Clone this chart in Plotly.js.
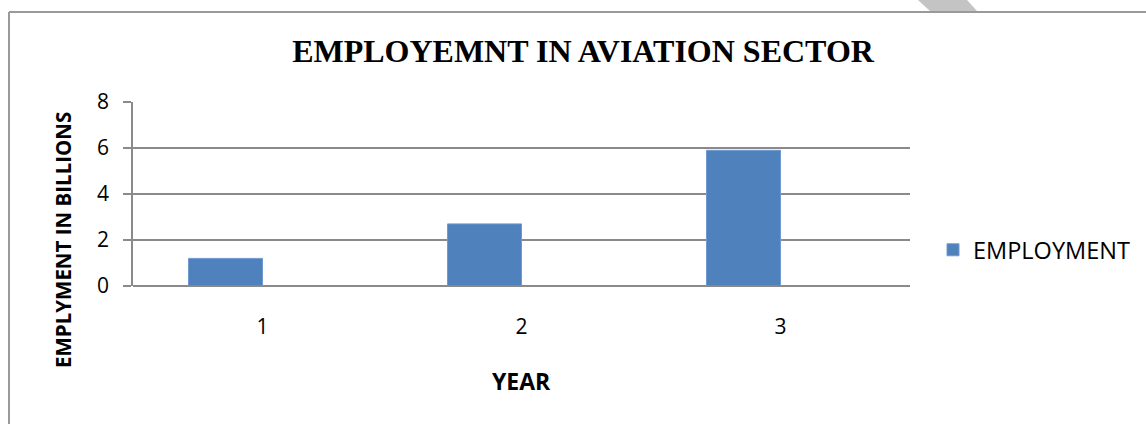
<!DOCTYPE html>
<html>
<head>
<meta charset="utf-8">
<script src="https://cdn.plot.ly/plotly-3.0.1.min.js"></script>
<style>
html,body{margin:0;padding:0;background:#fff;}
#chart{width:1146px;height:424px;}
</style>
</head>
<body>
<div id="chart"></div>
<script>
// Data
const years = ["1", "2", "3"];
const employment = [1.2, 2.7, 5.9];
const seriesName = "EMPLOYMENT";
const chartTitle = "EMPLOYEMNT IN AVIATION SECTOR";
const xTitle = "YEAR";
const yTitle = "EMPLYMENT IN BILLIONS";
const yTicks = [0, 2, 4, 6, 8];

// Layout geometry (pixels)
const W = 1146, H = 424;
const M = {l: 133, r: 236, t: 102, b: 138, autoexpand: false};
const PW = W - M.l - M.r, PH = H - M.t - M.b;
const px = v => (v - M.l) / PW;
const py = v => (H - M.b - v) / PH;

const grid = "#8a8a8a";
const barW = 1 / 3.5; // Excel clustered: 2 series, gap 150%

const trace = {
  type: "bar",
  x: years,
  y: employment,
  name: seriesName,
  width: barW,
  offset: -barW,
  marker: {color: "#4F81BD", line: {color: "#6f9ad0", width: 1}},
  hoverinfo: "x+y"
};

const layout = {
  width: W, height: H,
  margin: M,
  paper_bgcolor: "#ffffff",
  plot_bgcolor: "#ffffff",
  showlegend: true,
  title: {
    text: "<b>" + chartTitle + "</b>",
    font: {family: "Liberation Serif, Times New Roman, serif", size: 32, color: "#000"},
    xref: "paper", x: px(583), xanchor: "center",
    yref: "container", y: 1 - 51 / H, yanchor: "middle"
  },
  xaxis: {
    type: "category",
    showgrid: false,
    zeroline: false,
    showline: false,
    ticks: "",
    ticklabelstandoff: 26,
    tickfont: {family: "Open Sans, sans-serif", size: 21, color: "#000"},
    fixedrange: true
  },
  yaxis: {
    range: [0, 8],
    tickvals: yTicks,
    showgrid: true,
    gridcolor: grid,
    gridwidth: 1.6,
    zeroline: true,
    zerolinecolor: grid,
    zerolinewidth: 1.6,
    showline: true,
    linecolor: grid,
    linewidth: 1.6,
    ticks: "outside",
    ticklen: 8,
    tickcolor: grid,
    tickwidth: 1.6,
    ticklabelstandoff: 10,
    tickfont: {family: "Open Sans, sans-serif", size: 21, color: "#000"},
    fixedrange: true
  },
  legend: {
    x: px(933), xanchor: "left",
    y: py(250), yanchor: "middle",
    font: {family: "Open Sans, sans-serif", size: 23.5, color: "#000"},
    itemwidth: 30,
    bgcolor: "rgba(0,0,0,0)"
  },
  annotations: [
    {
      text: "<b>" + yTitle + "</b>",
      xref: "paper", yref: "paper",
      x: px(63), y: py(240),
      xanchor: "center", yanchor: "middle",
      textangle: -90, showarrow: false,
      font: {family: "Open Sans, sans-serif", size: 20.5, color: "#000"}
    },
    {
      text: "<b>" + xTitle + "</b>",
      xref: "paper", yref: "paper",
      x: px(521), y: py(381),
      xanchor: "center", yanchor: "middle",
      showarrow: false,
      font: {family: "Open Sans, sans-serif", size: 23, color: "#000"}
    }
  ],
  shapes: [
    {type: "line", xref: "paper", yref: "paper", x0: px(9), x1: px(9), y0: py(12), y1: py(430), line: {color: "#9a9a9a", width: 2}},
    {type: "line", xref: "paper", yref: "paper", x0: px(9), x1: px(1150), y0: py(12), y1: py(12), line: {color: "#9a9a9a", width: 2}},
    {type: "path", xref: "paper", yref: "paper",
     path: "M " + px(918) + " " + py(0) + " L " + px(967) + " " + py(0) + " L " + px(977) + " " + py(11) + " L " + px(930) + " " + py(11) + " Z",
     fillcolor: "#c4c4c4", line: {width: 0}, layer: "below"}
  ]
};

Plotly.newPlot("chart", [trace], layout, {displayModeBar: false, staticPlot: false});
</script>
</body>
</html>
